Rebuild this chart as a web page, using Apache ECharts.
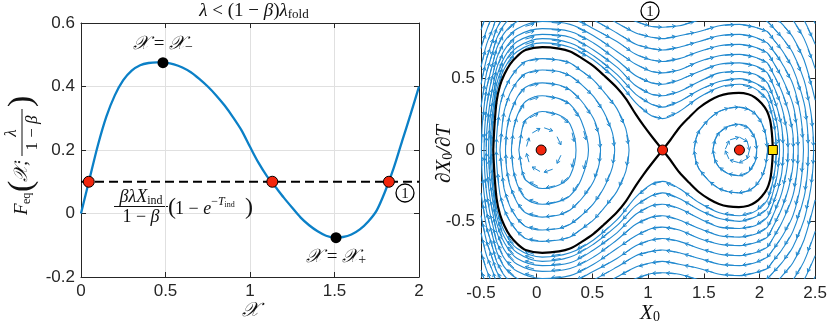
<!DOCTYPE html>
<html>
<head>
<meta charset="utf-8">
<script src="https://cdn.jsdelivr.net/npm/echarts@6.0.0/dist/echarts.min.js"></script>
<style>
html, body { margin: 0; padding: 0; background: #fff; }
#main { width: 830px; height: 327px; }
</style>
</head>
<body>
<div id="main"></div>
<script>
// ---- left panel: F_eq curve ----
var curveX = [0, 0.05, 0.1, 0.15, 0.2, 0.25, 0.3, 0.35, 0.4, 0.45, 0.5, 0.55, 0.6, 0.65, 0.7, 0.75, 0.8, 0.85, 0.9, 0.95, 1.0,
  1.05, 1.1, 1.15, 1.2, 1.25, 1.3, 1.35, 1.4, 1.45, 1.5, 1.55, 1.6, 1.65, 1.7, 1.75, 1.8, 1.85, 1.9, 1.95, 2.0];
var curveY = [0, 0.108, 0.215, 0.305, 0.372, 0.42, 0.45, 0.467, 0.474, 0.476, 0.475, 0.47, 0.46, 0.445, 0.424, 0.4, 0.372, 0.34, 0.303, 0.262, 0.21,
  0.16, 0.118, 0.084, 0.05, 0.018, -0.013, -0.037, -0.056, -0.07, -0.076, -0.074, -0.066, -0.05, -0.025, 0.01, 0.07, 0.143, 0.228, 0.312, 0.4];
var eqLevel = 0.1;
var eqRoots = [0.046, 1.132, 1.822];
var extremaX = [0.485, 1.509];
var extremaY = [0.475, -0.076];

// ---- right panel: phase portrait, upper halves (lower half is the mirror image) ----
var sepLeft = [[-0.39, 0], [-0.38, 0.16], [-0.36, 0.34], [-0.33, 0.45], [-0.29, 0.53], [-0.24, 0.6], [-0.175, 0.657], [-0.1, 0.7], [0.05, 0.72],
  [0.2, 0.71], [0.3, 0.69], [0.4, 0.645], [0.51, 0.587], [0.6, 0.525], [0.72, 0.436], [0.8, 0.36], [0.89, 0.249], [0.96, 0.17], [1.03, 0.098], [1.13, 0]];
var sepRight = [[1.13, 0], [1.2, 0.07], [1.28, 0.156], [1.37, 0.23], [1.458, 0.296], [1.55, 0.345], [1.636, 0.378], [1.72, 0.395], [1.815, 0.4],
  [1.9, 0.39], [1.963, 0.366], [2.02, 0.325], [2.067, 0.273], [2.095, 0.21], [2.106, 0.156], [2.115, 0.08], [2.12, 0]];
var innerLeft = [
  [[-0.362, 0], [-0.36, 0.09], [-0.33, 0.31], [-0.29, 0.42], [-0.24, 0.5], [-0.175, 0.57], [-0.1, 0.62], [0.05, 0.64], [0.2, 0.63], [0.3, 0.61], [0.4, 0.555], [0.51, 0.49], [0.6, 0.41], [0.72, 0.29], [0.8, 0.15], [0.829, 0]],
  [[-0.33, 0], [-0.31, 0.17], [-0.29, 0.28], [-0.24, 0.395], [-0.175, 0.48], [-0.1, 0.535], [0.05, 0.56], [0.2, 0.55], [0.3, 0.52], [0.4, 0.46], [0.51, 0.375], [0.6, 0.27], [0.68, 0.12], [0.7, 0]],
  [[-0.28, 0], [-0.27, 0.13], [-0.24, 0.25], [-0.175, 0.37], [-0.1, 0.44], [0.05, 0.47], [0.2, 0.455], [0.3, 0.42], [0.4, 0.345], [0.51, 0.22], [0.56, 0.1], [0.573, 0]],
  [[-0.227, 0], [-0.21, 0.14], [-0.175, 0.24], [-0.1, 0.34], [0.05, 0.38], [0.2, 0.36], [0.3, 0.32], [0.4, 0.205], [0.465, 0]],
  [[-0.16, 0], [-0.13, 0.15], [-0.1, 0.21], [0.05, 0.27], [0.2, 0.245], [0.3, 0.18], [0.353, 0]]
];
var innerRight = [
  [[1.413, 0], [1.43, 0.08], [1.458, 0.134], [1.55, 0.22], [1.636, 0.27], [1.72, 0.293], [1.815, 0.3], [1.9, 0.286], [1.963, 0.253], [2.02, 0.19], [2.055, 0.11], [2.072, 0]],
  [[1.582, 0], [1.6, 0.07], [1.636, 0.12], [1.72, 0.167], [1.815, 0.18], [1.9, 0.155], [1.963, 0.077], [1.975, 0]]
];
var outerClosed = [
  [[-0.404, 0], [-0.4, 0.12], [-0.39, 0.22], [-0.36, 0.41], [-0.29, 0.57], [-0.175, 0.69], [0.05, 0.75], [0.3, 0.72], [0.51, 0.63], [0.72, 0.49], [0.89, 0.33], [1.03, 0.24], [1.13, 0.22], [1.28, 0.27], [1.46, 0.37], [1.64, 0.44], [1.82, 0.46], [1.96, 0.43], [2.07, 0.35], [2.12, 0.22], [2.14, 0.13], [2.152, 0]],
  [[-0.417, 0], [-0.41, 0.15], [-0.39, 0.3], [-0.36, 0.46], [-0.29, 0.61], [-0.175, 0.72], [0.05, 0.78], [0.3, 0.75], [0.51, 0.66], [0.72, 0.53], [0.89, 0.39], [1.03, 0.32], [1.13, 0.3], [1.28, 0.34], [1.46, 0.42], [1.64, 0.48], [1.82, 0.5], [1.96, 0.47], [2.07, 0.41], [2.12, 0.3], [2.16, 0.17], [2.18, 0]],
  [[-0.433, 0], [-0.42, 0.21], [-0.39, 0.38], [-0.36, 0.51], [-0.29, 0.65], [-0.175, 0.76], [0.05, 0.81], [0.3, 0.79], [0.51, 0.7], [0.72, 0.58], [0.89, 0.45], [1.03, 0.39], [1.13, 0.38], [1.28, 0.41], [1.46, 0.48], [1.64, 0.54], [1.82, 0.55], [1.96, 0.53], [2.07, 0.47], [2.12, 0.38], [2.16, 0.29], [2.2, 0.16], [2.215, 0]],
  [[-0.453, 0], [-0.45, 0.11], [-0.42, 0.33], [-0.39, 0.46], [-0.36, 0.57], [-0.29, 0.7], [-0.175, 0.8], [0.05, 0.85], [0.3, 0.83], [0.51, 0.75], [0.72, 0.63], [0.89, 0.52], [1.03, 0.47], [1.13, 0.46], [1.28, 0.49], [1.46, 0.55], [1.64, 0.6], [1.82, 0.61], [1.96, 0.59], [2.07, 0.54], [2.12, 0.46], [2.2, 0.3], [2.25, 0.11], [2.257, 0]],
  [[-0.473, 0], [-0.465, 0.17], [-0.45, 0.3], [-0.42, 0.44], [-0.39, 0.54], [-0.36, 0.64], [-0.29, 0.76], [-0.175, 0.85], [0.05, 0.9], [0.3, 0.88], [0.51, 0.8], [0.72, 0.69], [0.89, 0.6], [1.03, 0.55], [1.13, 0.54], [1.28, 0.56], [1.46, 0.62], [1.64, 0.66], [1.82, 0.67], [1.96, 0.65], [2.07, 0.61], [2.12, 0.54], [2.2, 0.41], [2.26, 0.27], [2.3, 0.11], [2.305, 0]],
  [[-0.496, 0], [-0.49, 0.16], [-0.47, 0.32], [-0.45, 0.43], [-0.42, 0.53], [-0.39, 0.62], [-0.36, 0.71], [-0.29, 0.82], [-0.175, 0.9], [0.05, 0.95], [0.3, 0.93], [0.51, 0.85], [0.72, 0.76], [0.89, 0.67], [1.03, 0.63], [1.13, 0.62], [1.28, 0.64], [1.46, 0.69], [1.64, 0.73], [1.82, 0.74], [1.96, 0.72], [2.07, 0.68], [2.12, 0.62], [2.2, 0.51], [2.3, 0.32], [2.34, 0.13], [2.347, 0]]
];
var outerLeftOpen = [
  [[-0.5, 0.3], [-0.45, 0.54], [-0.42, 0.62], [-0.39, 0.7], [-0.36, 0.78], [-0.29, 0.88], [-0.175, 0.96], [0.05, 1.0], [0.3, 0.98], [0.51, 0.91], [0.72, 0.82], [0.89, 0.74], [1.03, 0.71], [1.13, 0.7], [1.28, 0.72], [1.46, 0.76], [1.64, 0.8], [1.82, 0.81], [1.96, 0.79], [2.07, 0.75], [2.12, 0.7], [2.2, 0.61], [2.3, 0.46], [2.37, 0.24], [2.395, 0]],
  [[-0.5, 0.46], [-0.45, 0.64], [-0.42, 0.71], [-0.39, 0.78], [-0.36, 0.85], [-0.29, 0.94], [-0.175, 1.02], [0.05, 1.06], [0.3, 1.04], [0.51, 0.98], [0.72, 0.89], [0.89, 0.82], [1.03, 0.79], [1.13, 0.78], [1.28, 0.8], [1.46, 0.83], [1.64, 0.87], [1.82, 0.88], [1.96, 0.86], [2.07, 0.83], [2.12, 0.78], [2.2, 0.7], [2.3, 0.57], [2.4, 0.33], [2.43, 0.16], [2.439, 0]],
  [[-0.5, 0.58], [-0.45, 0.74], [-0.39, 0.86], [-0.36, 0.93], [-0.29, 1.01], [-0.175, 1.08], [0.05, 1.12], [0.3, 1.1], [0.51, 1.04], [0.72, 0.96], [0.89, 0.9], [1.03, 0.865], [1.13, 0.86], [1.28, 0.87], [1.46, 0.91], [1.64, 0.94], [1.82, 0.95], [1.96, 0.94], [2.07, 0.9], [2.12, 0.86], [2.2, 0.79], [2.3, 0.68], [2.4, 0.49], [2.46, 0.27], [2.48, 0.125], [2.486, 0]]
];
var outerOpen = [
  [[-0.5, 0.71], [-0.45, 0.84], [-0.39, 0.95], [-0.29, 1.08], [0.05, 1.2], [0.51, 1.11], [0.89, 0.98], [1.13, 0.95], [1.46, 1.0], [1.82, 1.03], [2.07, 0.99], [2.12, 0.95], [2.2, 0.885], [2.3, 0.79], [2.4, 0.63], [2.5, 0.35]],
  [[-0.5, 0.84], [-0.45, 0.95], [-0.39, 1.05], [0.05, 1.28], [1.13, 1.05], [1.82, 1.12], [2.12, 1.05], [2.2, 0.99], [2.3, 0.91], [2.4, 0.78], [2.5, 0.57]],
  [[-0.5, 0.96], [-0.45, 1.06], [0.05, 1.37], [1.13, 1.15], [2.12, 1.15], [2.2, 1.1], [2.3, 1.03], [2.4, 0.91], [2.5, 0.74]],
  [[2.12, 1.25], [2.2, 1.2], [2.3, 1.14], [2.4, 1.04], [2.5, 0.885]]
];
// small orbits near the centres, shown only by their arrows
var arrowOnly = [
  [[-0.1, 0], [-0.06, 0.11], [0.05, 0.16], [0.16, 0.13], [0.24, 0]],
  [[1.69, 0], [1.73, 0.07], [1.82, 0.09], [1.89, 0.06], [1.91, 0]]
];
var fixedX = [0.04, 1.13, 1.82];
var startPoint = [2.12, 0];

var ink = '#262626';
var streamColor = '#2189cf';
var SERIF_NAME = 'Liberation Serif';
var SANS = '"Liberation Sans", Arial, sans-serif';

function mirror(pts) {
  return pts.map(function (p) { return [p[0], -p[1]]; });
}
// upper half left->right, then the lower half back: clockwise like the flow
function loopPath(upper) {
  return upper.concat(mirror(upper.slice(0, -1).reverse()));
}

var streamPaths = [];
innerLeft.concat(innerRight, outerClosed, outerLeftOpen).forEach(function (u) {
  streamPaths.push(loopPath(u));
});
outerOpen.forEach(function (u) {
  streamPaths.push(u);
  streamPaths.push(mirror(u.slice().reverse()));
});

var arrowSegs = [];
streamPaths.concat(arrowOnly.map(loopPath)).forEach(function (path) {
  for (var i = 0; i < path.length - 1; i++) {
    arrowSegs.push([path[i][0], path[i][1], path[i + 1][0], path[i + 1][1]]);
  }
});

function axisBase(grid, pos, min, max, interval, showLabel, grid2) {
  var a = {
    type: 'value', gridIndex: grid, position: pos, min: min, max: max,
    axisLine: { show: true, onZero: false, lineStyle: { color: ink, width: 1 } },
    axisTick: { show: true, inside: true, length: 5, lineStyle: { color: ink } },
    axisLabel: { show: showLabel, color: ink, fontFamily: SANS, fontSize: 17, margin: 6 },
    splitLine: { show: !!grid2, lineStyle: { color: '#e0e0e0', width: 1 } }
  };
  if (interval) a.interval = interval;
  return a;
}

var rightYTicks = [-0.5, 0, 0.5];
var ry1 = axisBase(1, 'left', -0.9, 0.9, null, true, false);
ry1.axisTick.customValues = rightYTicks;
ry1.axisLabel.customValues = rightYTicks;
var ry2 = axisBase(1, 'right', -0.9, 0.9, null, false, false);
ry2.axisTick.customValues = rightYTicks;

function rItal(size) { return { fontFamily: SERIF_NAME, fontStyle: 'italic', fontSize: size, color: '#111', lineHeight: size + 2 }; }
function rUp(size) { return { fontFamily: SERIF_NAME, fontSize: size, color: '#111', lineHeight: size + 2 }; }
function rSub(size) { return { fontFamily: SERIF_NAME, fontSize: size, color: '#111', verticalAlign: 'bottom', lineHeight: size - 1 }; }

var series = [];

// left panel
series.push({
  type: 'line', xAxisIndex: 0, yAxisIndex: 0, z: 3,
  data: curveX.map(function (x, i) { return [x, curveY[i]]; }),
  smooth: 0.3, symbol: 'none', lineStyle: { color: '#0b80c7', width: 2.3 }
});
series.push({
  type: 'line', xAxisIndex: 0, yAxisIndex: 0, z: 4,
  data: [[0, eqLevel], [2, eqLevel]], symbol: 'none',
  lineStyle: { color: '#000', width: 2, type: [9, 5] }
});
series.push({
  type: 'scatter', xAxisIndex: 0, yAxisIndex: 0, z: 5,
  data: eqRoots.map(function (x) { return [x, eqLevel]; }),
  symbolSize: 11, itemStyle: { color: '#f2260d', borderColor: '#000', borderWidth: 1, opacity: 1 }
});
series.push({
  type: 'scatter', xAxisIndex: 0, yAxisIndex: 0, z: 5,
  data: [
    { value: [extremaX[0], extremaY[0]], label: { position: 'top', formatter: '{i|𝒳}{o| = }{i|𝒳}{s|−}' } },
    { value: [extremaX[1], extremaY[1]], label: { position: 'bottom', formatter: '{i|𝒳}{o| = }{i|𝒳}{s|+}' } }
  ],
  symbolSize: 11, itemStyle: { color: '#000', opacity: 1 },
  label: { show: true, distance: 3, rich: { i: rItal(19), o: rUp(19), s: rSub(14) } }
});

// right panel
streamPaths.forEach(function (p) {
  series.push({
    type: 'line', xAxisIndex: 2, yAxisIndex: 2, z: 2, data: p, smooth: 0.35,
    symbol: 'none', silent: true, lineStyle: { color: streamColor, width: 1.1 }
  });
});
series.push({
  type: 'custom', xAxisIndex: 2, yAxisIndex: 2, z: 2, silent: true, clip: true,
  dimensions: ['x1', 'y1', 'x2', 'y2'],
  encode: { x: [0, 2], y: [1, 3] },
  data: arrowSegs,
  renderItem: function (params, api) {
    var a = api.coord([api.value(0), api.value(1)]);
    var b = api.coord([api.value(2), api.value(3)]);
    var dx = b[0] - a[0], dy = b[1] - a[1];
    var L = Math.sqrt(dx * dx + dy * dy);
    if (L < 7) return null;
    var ux = dx / L, uy = dy / L;
    var mx = (a[0] + b[0]) / 2, my = (a[1] + b[1]) / 2;
    var half = 4.5, hl = 3.2, hw = 1.9;
    var tip = [mx + ux * half, my + uy * half];
    var tail = [mx - ux * half, my - uy * half];
    var w1 = [tip[0] - ux * hl - uy * hw, tip[1] - uy * hl + ux * hw];
    var w2 = [tip[0] - ux * hl + uy * hw, tip[1] - uy * hl - ux * hw];
    return {
      type: 'group',
      children: [
        { type: 'polyline', shape: { points: [tail, tip] }, style: { stroke: streamColor, lineWidth: 1, fill: null } },
        { type: 'polyline', shape: { points: [w1, tip, w2] }, style: { stroke: streamColor, lineWidth: 1, fill: null } }
      ]
    };
  }
});
[sepLeft, sepRight].forEach(function (u) {
  [u, mirror(u)].forEach(function (p) {
    series.push({
      type: 'line', xAxisIndex: 2, yAxisIndex: 2, z: 4, data: p, smooth: 0.3,
      symbol: 'none', silent: true, lineStyle: { color: '#000', width: 2.2 }
    });
  });
});
series.push({
  type: 'scatter', xAxisIndex: 2, yAxisIndex: 2, z: 6,
  data: fixedX.map(function (x) { return [x, 0]; }),
  symbolSize: 10, itemStyle: { color: '#f2260d', borderColor: '#000', borderWidth: 1, opacity: 1 }
});
series.push({
  type: 'scatter', xAxisIndex: 2, yAxisIndex: 2, z: 6,
  data: [startPoint], symbol: 'rect',
  symbolSize: 9, itemStyle: { color: '#ffdf00', borderColor: '#000', borderWidth: 1, opacity: 1 }
});

// ---- math text: pieces laid out one after another ----
var measureCtx = document.createElement('canvas').getContext('2d');
function pieceFont(size, italic) { return (italic ? 'italic ' : '') + size + 'px "' + SERIF_NAME + '"'; }
function txt(x, y, text, size, italic, align, z) {
  return {
    type: 'text', x: x, y: y, z: z || 10,
    style: { text: text, font: pieceFont(size, italic), fill: '#111', align: align || 'left', verticalAlign: 'middle' }
  };
}
// pieces: [text, size, italic, dy]
function seq(x, y, pieces, align) {
  var widths = pieces.map(function (p) {
    measureCtx.font = pieceFont(p[1], p[2]);
    return measureCtx.measureText(p[0]).width;
  });
  var total = widths.reduce(function (s, w) { return s + w; }, 0);
  var cx = align === 'center' ? x - total / 2 : x;
  var out = [];
  pieces.forEach(function (p, i) {
    out.push(txt(cx, y + (p[3] || 0), p[0], p[1], p[2], 'left'));
    cx += widths[i];
  });
  return out;
}
function circled(cx, cy) {
  return [
    { type: 'circle', z: 50, shape: { cx: cx, cy: cy, r: 9 }, style: { stroke: '#000', fill: '#fff', lineWidth: 1.3 } },
    txt(cx, cy + 1, '1', 15, false, 'center', 51)
  ];
}

var graphic = [].concat(
  // title
  seq(254, 11, [['λ', 19, 1], [' < (1 − ', 19, 0], ['β', 19, 1], [')', 19, 0], ['λ', 19, 1], ['fold', 13, 0, 4]], 'center'),
  // left x axis label
  [txt(250, 311, '𝒳', 20, true, 'center')],
  // forcing level annotation
  seq(141, 197, [['βλX', 18, 1], ['ind', 12, 0, 4]], 'center'),
  [{ type: 'line', shape: { x1: 114, y1: 206.5, x2: 168, y2: 206.5 }, style: { stroke: '#111', lineWidth: 1 } }],
  seq(141, 217, [['1 − ', 18, 0], ['β', 18, 1]], 'center'),
  [txt(168, 208, '(', 24, false)],
  seq(175, 209, [['1 − ', 18, 0], ['e', 18, 1], ['−', 12, 0, -7], ['T', 12, 1, -7], ['ind', 8, 0, -4]]),
  [txt(245, 208, ')', 24, false)],
  // right x axis label
  seq(650, 313, [['X', 21, 1], ['0', 14, 0, 4]], 'center'),
  [
    // left y axis label, rotated
    {
      type: 'group', x: 22, y: 152, rotation: Math.PI / 2,
      children: [
        txt(-63, 0, 'F', 19, true),
        txt(-52, 5, 'eq', 12, false),
        txt(-40, 0, '(', 34, false),
        txt(-30, 0, '𝒳;', 19, true),
        txt(19, -10, 'λ', 17, true, 'center'),
        { type: 'line', shape: { x1: -4, y1: 0, x2: 43, y2: 0 }, style: { stroke: '#111', lineWidth: 1 } }
      ].concat(seq(19, 11, [['1 − ', 17, 0], ['β', 17, 1]], 'center'), [txt(45, 0, ')', 34, false)])
    },
    // right y axis label, rotated
    {
      type: 'group', x: 444, y: 154, rotation: Math.PI / 2,
      children: seq(0, 0, [['∂X', 21, 1], ['0', 14, 0, 4], ['/∂', 21, 1], ['T', 21, 1]], 'center')
    }
  ],
  circled(405, 193),
  circled(650, 11)
);

var option = {
  animation: false,
  backgroundColor: '#fff',
  grid: [
    { left: 81, right: 411, top: 23, bottom: 50 },
    { left: 481, right: 11, top: 21.5, bottom: 48.5 }
  ],
  xAxis: [
    axisBase(0, 'bottom', 0, 2, 0.5, true, true),
    axisBase(0, 'top', 0, 2, 0.5, false, false),
    axisBase(1, 'bottom', -0.5, 2.5, 0.5, true, false),
    axisBase(1, 'top', -0.5, 2.5, 0.5, false, false)
  ],
  yAxis: [
    axisBase(0, 'left', -0.2, 0.6, 0.2, true, true),
    axisBase(0, 'right', -0.2, 0.6, 0.2, false, false),
    ry1,
    ry2
  ],
  series: series,
  graphic: graphic
};

var chart = echarts.init(document.getElementById('main'));
chart.setOption(option);
</script>
</body>
</html>
